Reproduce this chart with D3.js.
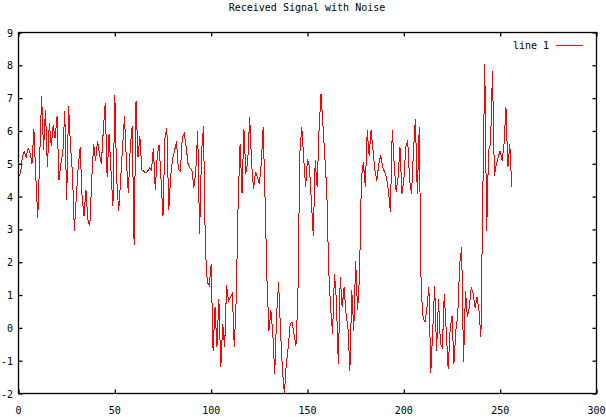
<!DOCTYPE html>
<html>
<head>
<meta charset="utf-8">
<script src="https://cdn.jsdelivr.net/npm/d3@7"></script>
<style>
  html, body { margin: 0; padding: 0; background: #fff; }
  svg { display: block; }
  text { font-family: "DejaVu Sans Mono", "Liberation Mono", monospace; font-size: 10px; fill: #000; }
</style>
</head>
<body>
<script>
// ---- data ----
const title = "Received Signal with Noise";
const seriesName = "line 1";
const xTicks = [0, 50, 100, 150, 200, 250, 300];
const yTicks = [-2, -1, 0, 1, 2, 3, 4, 5, 6, 7, 8, 9];
const signal = [
  4.6, 4.7, 5.2, 5.37, 5.2, 5.48, 5.33, 5.0, 6.05, 4.6,
  3.35, 5.2, 7.07, 5.43, 6.65, 4.9, 6.24, 5.53, 6.19, 5.78,
  6.44, 4.5, 5.0, 5.33, 6.6, 3.9, 6.75, 5.53, 4.72, 2.95,
  4.0, 4.9, 5.5, 4.0, 3.4, 4.2, 3.3, 3.1, 4.5, 5.6,
  5.1, 5.7, 5.3, 5.0, 6.0, 6.85, 4.6, 5.9, 4.8, 3.7,
  7.1, 4.5, 3.55, 4.5, 5.5, 6.44, 5.1, 4.1, 5.5, 6.14,
  2.54, 6.9, 5.2, 5.83, 4.82, 4.77, 4.72, 4.77, 4.87, 4.8,
  5.48, 4.2, 5.23, 5.58, 4.5, 3.4, 5.78, 6.09, 3.6, 4.62,
  5.17, 5.4, 5.68, 4.82, 4.77, 5.78, 5.93, 5.53, 5.0, 4.87,
  4.82, 4.26, 4.77, 6.0, 2.85, 5.33, 6.14, 2.4, 1.39, 1.29,
  1.95, -0.69, 0.63, -0.59, 0.88, -1.2, 0.12, -0.59, 1.29, 0.83,
  0.93, 1.04, -0.59, 0.88, 3.8, 5.6, 4.1, 6.07, 4.7, 5.1,
  6.42, 5.0, 4.24, 4.75, 4.6, 4.39, 5.0, 6.12, 3.88, 1.39,
  -0.08, 0.53, -0.18, -1.4, 0.43, 1.39, -0.08, -1.3, -2.0, -1.1,
  -0.59, 0.12, 0.17, -0.18, -0.54, 0.88, 5.3, 6.12, 5.2, 4.29,
  5.15, 4.9, 3.88, 2.81, 5.1, 4.29, 6.02, 7.13, 6.22, 5.2,
  4.19, 1.75, 0.63, -0.18, 1.65, 0.83, -1.1, 1.54, 0.63, 1.24,
  0.43, 0.02, -1.3, 1.14, -0.08, 2.05, 0.53, 1.6, 4.59, 5.05,
  4.29, 6.02, 5.25, 6.02, 5.41, 4.8, 4.49, 5.0, 5.25, 4.9,
  4.75, 4.59, 4.19, 3.53, 6.02, 5.0, 4.14, 4.59, 5.51, 4.08,
  4.49, 5.51, 5.71, 4.49, 4.08, 5.4, 6.37, 4.08, 6.11, 1.13,
  0.32, 0.17, 0.62, 1.24, -1.36, -0.09, 1.29, -0.7, 0.88, -0.49,
  -0.6, 1.03, -0.09, -1.26, -0.09, 0.37, -1.1, -0.09, 0.42, 1.95,
  2.45, -1.05, 1.13, 0.32, 0.62, 1.24, 1.03, 0.62, 0.93, 0.52,
  -0.29, 4.08, 8.04, 2.96, 5.4, 5.6, 7.84, 4.64, 4.99, 5.2,
  5.4, 5.1, 5.6, 6.72, 4.89, 5.6, 4.28
];

// ---- layout ----
const W = 606, H = 417;
const plot = { left: 18.5, right: 596.5, top: 32.5, bottom: 393.5 };
const tickLen = 4;

const svg = d3.select("body").append("svg").attr("width", W).attr("height", H);

const x = d3.scaleLinear().domain([0, 300]).range([plot.left, plot.right]);
const y = d3.scaleLinear().domain([-2, 9]).range([plot.bottom, plot.top]);

// line
const line = d3.line().x((d, i) => x(i)).y(d => y(d));
svg.append("path")
  .datum(signal)
  .attr("fill", "none")
  .attr("stroke", "#ff0000")
  .attr("stroke-width", 1)
  .attr("shape-rendering", "crispEdges")
  .attr("d", line);

// axes with inward ticks (mirrored on all four sides)
function style(g) {
  g.select(".domain").remove();
  g.selectAll(".tick line").attr("stroke", "#000").attr("stroke-width", 1.3);
}
svg.append("g").attr("transform", `translate(0,${plot.bottom})`)
  .call(d3.axisBottom(x).tickValues(xTicks).tickSize(-tickLen).tickFormat("")).call(style);
svg.append("g").attr("transform", `translate(0,${plot.top})`)
  .call(d3.axisTop(x).tickValues(xTicks).tickSize(-tickLen).tickFormat("")).call(style);
svg.append("g").attr("transform", `translate(${plot.left},0)`)
  .call(d3.axisLeft(y).tickValues(yTicks).tickSize(-tickLen).tickFormat("")).call(style);
svg.append("g").attr("transform", `translate(${plot.right},0)`)
  .call(d3.axisRight(y).tickValues(yTicks).tickSize(-tickLen).tickFormat("")).call(style);

// frame
svg.append("rect")
  .attr("x", plot.left).attr("y", plot.top)
  .attr("width", plot.right - plot.left).attr("height", plot.bottom - plot.top)
  .attr("fill", "none").attr("stroke", "#000").attr("stroke-width", 1.3);

// tick labels
svg.append("g").selectAll("text").data(xTicks).join("text")
  .attr("x", d => x(d)).attr("y", 414)
  .attr("text-anchor", "middle").text(d => d);
svg.append("g").selectAll("text").data(yTicks).join("text")
  .attr("x", 13).attr("y", d => y(d) + 4)
  .attr("text-anchor", "end").text(d => d);

// title
svg.append("text").attr("x", 307).attr("y", 11).attr("text-anchor", "middle").text(title);

// legend
svg.append("text").attr("x", 549).attr("y", 49).attr("text-anchor", "end").text(seriesName);
svg.append("line").attr("x1", 556).attr("x2", 583).attr("y1", 45.5).attr("y2", 45.5)
  .attr("stroke", "#ff0000").attr("stroke-width", 1);
</script>
</body>
</html>
